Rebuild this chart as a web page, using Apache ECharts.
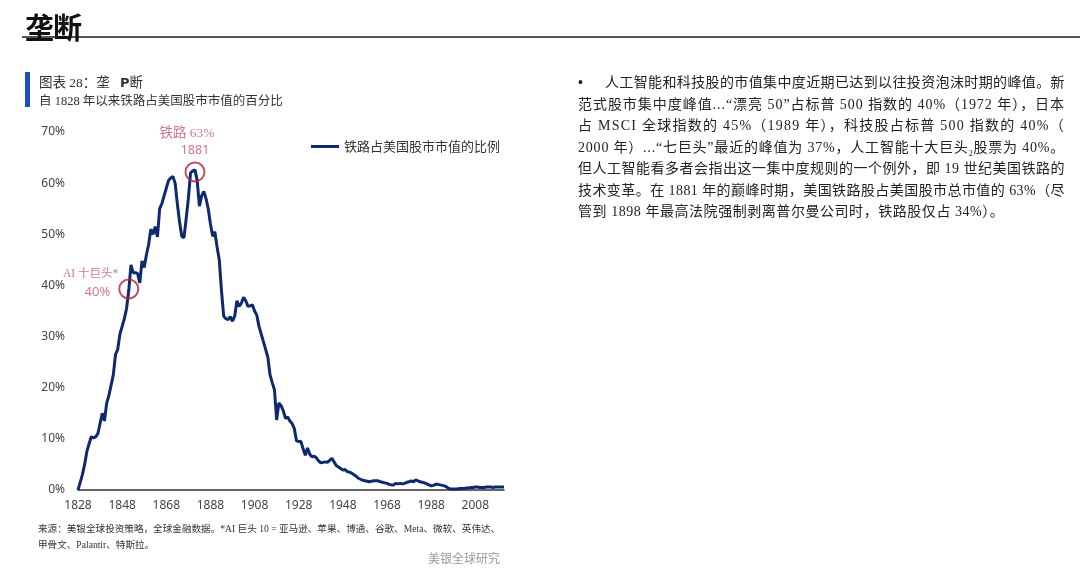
<!DOCTYPE html>
<html><head><meta charset="utf-8">
<script src="https://cdn.jsdelivr.net/npm/echarts@6/dist/echarts.min.js"></script>
<style>
html,body{margin:0;padding:0;background:#fff;width:1080px;height:578px;overflow:hidden;font-family:"Noto Sans CJK SC","Noto Sans",sans-serif;}
#chart{position:absolute;left:0;top:0;width:1080px;height:578px;}
.abs{position:absolute;white-space:nowrap;}
#hdr{left:25px;top:5px;font-size:29px;font-weight:700;color:#111;letter-spacing:-1px;}
#hline{left:22px;top:36px;width:1058px;height:2px;background:#555;}
#bar{left:25px;top:72px;width:5px;height:35px;background:#1a4fc4;}
#cap1{left:39px;top:71px;font-size:13.5px;color:#333;font-family:"Liberation Serif","Noto Sans CJK SC",serif;}
#cap2{left:39px;top:90px;font-size:12.5px;color:#333;font-family:"Liberation Serif","Noto Sans CJK SC",serif;}
.src{left:38px;font-size:9.6px;color:#333;font-family:"Liberation Serif","Noto Sans CJK SC",serif;}
#brand{left:428px;top:549px;font-size:12px;color:#999;}
.body{left:578px;font-size:14px;color:#222;font-family:"Liberation Serif","Noto Sans CJK SC",serif;}
</style></head>
<body>
<div id="chart"></div>
<div class="abs" id="hline"></div>
<div class="abs" id="hdr">垄断</div>
<div class="abs" id="bar"></div>
<div class="abs" id="cap1">图表 28：垄&nbsp;&nbsp;&nbsp;<b style="font-family:'DejaVu Sans',sans-serif;font-size:13px;">P</b>断</div>
<div class="abs" id="cap2">自 1828 年以来铁路占美国股市市值的百分比</div>
<div class="abs src" style="top:521px;">来源：美银全球投资策略，全球金融数据。*AI 巨头 10 = 亚马逊、苹果、博通、谷歌、Meta、微软、英伟达、</div>
<div class="abs src" style="top:537px;">甲骨文、Palantir、特斯拉。</div>
<div class="abs" id="brand">美银全球研究</div>
<div class="abs body" style="top:75px;"><span style="display:inline-block;width:27px;font-weight:700;">•</span></div>
<div class="abs body fit" data-w="460" style="top:71px;left:605px;"><span class="t">人工智能和科技股的市值集中度近期已达到以往投资泡沫时期的峰值。新</span></div>
<div class="abs body fit" data-w="487" style="top:93px;"><span class="t">范式股市集中度峰值...“漂亮 50”占标普 500 指数的 40%（1972 年），日本</span></div>
<div class="abs body fit" data-w="487" style="top:114px;"><span class="t">占 MSCI 全球指数的 45%（1989 年），科技股占标普 500 指数的 40%（</span></div>
<div class="abs body fit" data-w="487" style="top:136px;"><span class="t">2000 年）...“七巨头”最近的峰值为 37%，人工智能十大巨头<sub style="font-size:8px;">2</sub>股票为 40%。</span></div>
<div class="abs body fit" data-w="487" style="top:157px;"><span class="t">但人工智能看多者会指出这一集中度规则的一个例外，即 19 世纪美国铁路的</span></div>
<div class="abs body fit" data-w="487" style="top:179px;"><span class="t">技术变革。在 1881 年的巅峰时期，美国铁路股占美国股市总市值的 63%（尽</span></div>
<div class="abs body" style="top:200px;letter-spacing:0.55px;">管到 1898 年最高法院强制剥离普尔曼公司时，铁路股仅占 34%）。</div>
<script>
const startYear = 1828;
const railShare = [
0,1.5,3,5,7.5,9,10.4,10.2,10.4,11,
13,15,13.5,17,18.5,20.5,22.5,26.5,27.5,30.5,
32,33.5,35.5,39,44,42.5,42.5,42.3,40.5,44.8,
43.5,46,48,51,50,51.5,49.5,55,56,57.5,
59,60.5,61,61.3,60,56,52.5,49.6,49.3,53,
57,62,62.4,62.6,60.5,55.5,57.5,58.4,57,55,
52,49.6,50.5,47.5,45,39,34,33.5,33.3,33.9,
33,34,37,35.9,36.5,37.7,37,35.9,36,36.2,
35,34.2,32,30.5,29,27.5,26,22.5,21,19.6,
13.7,17,16.5,15.5,14,14.3,13.5,13,12,9.6,
9.5,9.5,8,6.8,8.2,7,6.5,6.6,6.3,5.7,
5.3,5.4,5.5,5.4,5.8,6.2,5.5,4.8,4.5,4.2,
3.9,4,3.6,3.5,3.3,3.0,2.7,2.3,2.1,1.9,
1.8,1.7,1.6,1.7,1.8,1.8,1.8,1.6,1.5,1.4,
1.3,1.1,1.0,1.0,1.3,1.2,1.3,1.2,1.3,1.5,
1.6,1.8,1.6,2.0,1.8,1.6,1.5,1.4,1.2,1.0,
0.8,0.9,1.1,1.1,1.0,0.9,0.8,0.6,0.3,0.2,
0.2,0.2,0.2,0.3,0.3,0.3,0.4,0.4,0.5,0.5,
0.6,0.6,0.5,0.5,0.5,0.6,0.6,0.6,0.5,0.6,
0.6,0.6,0.6,0.6
];
const years = railShare.map((_, i) => String(startYear + i));
const seriesName = '铁路占美国股市市值的比例';
const peakYear = '1881', peakCircleValue = 62.2;
const aiYear = '1851', aiCircleValue = 39.3;
const peakLabel = ['铁路 63%', '1881'];
const aiLabel = ['AI 十巨头*', '40%'];

// fit body lines to the justified width by even letter spacing
document.querySelectorAll('.fit').forEach(div => {
  const t = div.querySelector('.t');
  const target = +div.dataset.w;
  const natural = t.getBoundingClientRect().width;
  const n = t.textContent.length;
  if (n > 1 && natural < target) t.style.letterSpacing = ((target - natural) / n) + 'px';
});

const chart = echarts.init(document.getElementById('chart'), null, {renderer:'canvas'});
const pink = '#c6517c';
chart.setOption({
  animation:false,
  grid:{left:78, right:576, top:132, bottom:88, containLabel:false},
  legend:{
    data:[{name:seriesName, icon:'rect'}], left:306, top:135, itemWidth:28, itemHeight:3, itemGap:4,
    textStyle:{fontSize:13, color:'#333', fontFamily:'Noto Sans CJK SC'}
  },
  xAxis:{
    type:'category', data:years, boundaryGap:false,
    axisLine:{lineStyle:{color:'#333', width:1.5}},
    axisTick:{show:false},
    axisLabel:{interval:19, color:'#444', fontSize:12, margin:10, fontFamily:'Noto Sans'},
    splitLine:{show:false}
  },
  yAxis:{
    type:'value', min:0, max:70, interval:10,
    axisLine:{show:false}, axisTick:{show:false}, splitLine:{show:false},
    axisLabel:{formatter:'{value}%', color:'#444', fontSize:12, margin:13, fontFamily:'Noto Sans'}
  },
  series:[
    {name:seriesName, type:'line', data:railShare, showSymbol:false, symbol:'none',
     lineStyle:{color:'#0d2a6e', width:3}, itemStyle:{color:'#0d2a6e'}, smooth:false, z:3},
    {name:'annot', type:'scatter', z:5, symbol:'circle', symbolSize:19,
     itemStyle:{color:'rgba(0,0,0,0)', borderColor:'#b51f40', borderWidth:2},
     data:[
       {value:[peakYear, peakCircleValue], label:{show:true, position:'top', distance:2, formatter:'{a|'+peakLabel[0]+'}\n{b|'+peakLabel[1]+'}',
         offset:[-8,0], align:'center', rich:{a:{fontSize:13.5, color:pink, lineHeight:17, fontFamily:'Liberation Serif, Noto Sans CJK SC', align:'center'}, b:{fontSize:12.5, color:pink, lineHeight:17, fontFamily:'Noto Sans', padding:[0,0,0,16]}}}},
       {value:[aiYear, aiCircleValue], label:{show:true, position:'left', distance:4, formatter:'{a|'+aiLabel[0]+'}\n{b|'+aiLabel[1]+'}', offset:[4,-6],
         rich:{a:{fontSize:11.5, color:pink, lineHeight:19, fontFamily:'Liberation Serif, Noto Sans CJK SC', align:'right'}, b:{fontSize:13, color:pink, lineHeight:19, fontFamily:'Noto Sans', align:'right', padding:[0,8,0,0]}}}}
     ]}
  ]
});
</script>
</body></html>
